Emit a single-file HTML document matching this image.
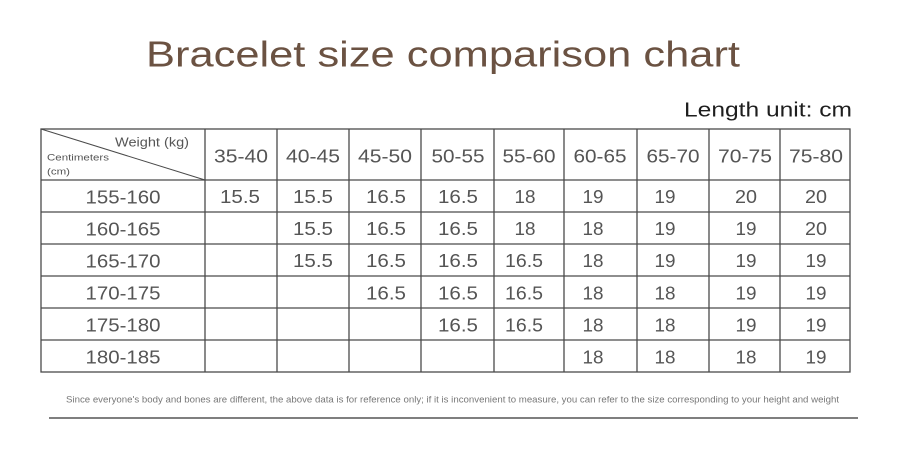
<!DOCTYPE html>
<html><head><meta charset="utf-8"><style>
html,body{margin:0;padding:0;background:#fff;}
svg{display:block;}
text{font-family:"Liberation Sans",sans-serif;}
</style></head><body>
<svg width="903" height="469" viewBox="0 0 903 469" xmlns="http://www.w3.org/2000/svg">
<rect width="903" height="469" fill="#fff"/>
<text x="146" y="66.5" font-size="36" fill="#6b5242" textLength="594" lengthAdjust="spacingAndGlyphs">Bracelet size comparison chart</text>
<text x="684" y="116.5" font-size="20" fill="#1e1e1e" textLength="168" lengthAdjust="spacingAndGlyphs">Length unit: cm</text>
<g stroke="#4a4a4a" stroke-width="1.3" fill="none">
<rect x="41" y="129" width="809" height="243"/>
<line x1="41" y1="180" x2="850" y2="180"/>
<line x1="41" y1="212" x2="850" y2="212"/>
<line x1="41" y1="244" x2="850" y2="244"/>
<line x1="41" y1="276" x2="850" y2="276"/>
<line x1="41" y1="308" x2="850" y2="308"/>
<line x1="41" y1="340" x2="850" y2="340"/>
<line x1="205" y1="129" x2="205" y2="372"/>
<line x1="277" y1="129" x2="277" y2="372"/>
<line x1="349" y1="129" x2="349" y2="372"/>
<line x1="421" y1="129" x2="421" y2="372"/>
<line x1="494" y1="129" x2="494" y2="372"/>
<line x1="564" y1="129" x2="564" y2="372"/>
<line x1="637" y1="129" x2="637" y2="372"/>
<line x1="709" y1="129" x2="709" y2="372"/>
<line x1="780" y1="129" x2="780" y2="372"/>
<line x1="41" y1="129" x2="205" y2="180" stroke-width="1"/>
</g>
<g fill="#555">
<text x="115" y="146.5" font-size="13" textLength="74" lengthAdjust="spacingAndGlyphs">Weight (kg)</text>
<text x="47" y="160.5" font-size="9.5" textLength="62" lengthAdjust="spacingAndGlyphs">Centimeters</text>
<text x="47" y="174.5" font-size="9.5" textLength="23" lengthAdjust="spacingAndGlyphs">(cm)</text>
</g>
<g fill="#555" font-size="18" text-anchor="middle">
<text x="241" y="162.3" textLength="54" lengthAdjust="spacingAndGlyphs">35-40</text>
<text x="313" y="162.3" textLength="54" lengthAdjust="spacingAndGlyphs">40-45</text>
<text x="385" y="162.3" textLength="54" lengthAdjust="spacingAndGlyphs">45-50</text>
<text x="458" y="162.3" textLength="53" lengthAdjust="spacingAndGlyphs">50-55</text>
<text x="529" y="162.3" textLength="53" lengthAdjust="spacingAndGlyphs">55-60</text>
<text x="600" y="162.3" textLength="53" lengthAdjust="spacingAndGlyphs">60-65</text>
<text x="673" y="162.3" textLength="53" lengthAdjust="spacingAndGlyphs">65-70</text>
<text x="745" y="162.3" textLength="54" lengthAdjust="spacingAndGlyphs">70-75</text>
<text x="816" y="162.3" textLength="54" lengthAdjust="spacingAndGlyphs">75-80</text>

<text x="123" y="203.5" textLength="75" lengthAdjust="spacingAndGlyphs">155-160</text>
<text x="123" y="235.5" textLength="75" lengthAdjust="spacingAndGlyphs">160-165</text>
<text x="123" y="267.3" textLength="75" lengthAdjust="spacingAndGlyphs">165-170</text>
<text x="123" y="299.3" textLength="75" lengthAdjust="spacingAndGlyphs">170-175</text>
<text x="123" y="331.5" textLength="75" lengthAdjust="spacingAndGlyphs">175-180</text>
<text x="123" y="363.5" textLength="75" lengthAdjust="spacingAndGlyphs">180-185</text>
</g>
<g fill="#555" font-size="18" text-anchor="middle">
<!-- row 1 -->
<text x="240" y="202.8" textLength="40" lengthAdjust="spacingAndGlyphs">15.5</text>
<text x="313" y="202.8" textLength="40" lengthAdjust="spacingAndGlyphs">15.5</text>
<text x="386" y="202.8" textLength="40" lengthAdjust="spacingAndGlyphs">16.5</text>
<text x="458" y="202.8" textLength="40" lengthAdjust="spacingAndGlyphs">16.5</text>
<text x="525" y="202.8" textLength="21" lengthAdjust="spacingAndGlyphs">18</text>
<text x="593" y="202.8" textLength="21" lengthAdjust="spacingAndGlyphs">19</text>
<text x="665" y="202.8" textLength="21" lengthAdjust="spacingAndGlyphs">19</text>
<text x="746" y="202.8" textLength="22" lengthAdjust="spacingAndGlyphs">20</text>
<text x="816" y="202.8" textLength="22" lengthAdjust="spacingAndGlyphs">20</text>
<!-- row 2 -->
<text x="313" y="235" textLength="40" lengthAdjust="spacingAndGlyphs">15.5</text>
<text x="386" y="235" textLength="40" lengthAdjust="spacingAndGlyphs">16.5</text>
<text x="458" y="235" textLength="40" lengthAdjust="spacingAndGlyphs">16.5</text>
<text x="525" y="235" textLength="21" lengthAdjust="spacingAndGlyphs">18</text>
<text x="593" y="235" textLength="21" lengthAdjust="spacingAndGlyphs">18</text>
<text x="665" y="235" textLength="21" lengthAdjust="spacingAndGlyphs">19</text>
<text x="746" y="235" textLength="21" lengthAdjust="spacingAndGlyphs">19</text>
<text x="816" y="235" textLength="22" lengthAdjust="spacingAndGlyphs">20</text>
<!-- row 3 -->
<text x="313" y="267" textLength="40" lengthAdjust="spacingAndGlyphs">15.5</text>
<text x="386" y="267" textLength="40" lengthAdjust="spacingAndGlyphs">16.5</text>
<text x="458" y="267" textLength="40" lengthAdjust="spacingAndGlyphs">16.5</text>
<text x="524" y="267" textLength="38" lengthAdjust="spacingAndGlyphs">16.5</text>
<text x="593" y="267" textLength="21" lengthAdjust="spacingAndGlyphs">18</text>
<text x="665" y="267" textLength="21" lengthAdjust="spacingAndGlyphs">19</text>
<text x="746" y="267" textLength="21" lengthAdjust="spacingAndGlyphs">19</text>
<text x="816" y="267" textLength="21" lengthAdjust="spacingAndGlyphs">19</text>
<!-- row 4 -->
<text x="386" y="299.3" textLength="40" lengthAdjust="spacingAndGlyphs">16.5</text>
<text x="458" y="299.3" textLength="40" lengthAdjust="spacingAndGlyphs">16.5</text>
<text x="524" y="299.3" textLength="38" lengthAdjust="spacingAndGlyphs">16.5</text>
<text x="593" y="299.3" textLength="21" lengthAdjust="spacingAndGlyphs">18</text>
<text x="665" y="299.3" textLength="21" lengthAdjust="spacingAndGlyphs">18</text>
<text x="746" y="299.3" textLength="21" lengthAdjust="spacingAndGlyphs">19</text>
<text x="816" y="299.3" textLength="21" lengthAdjust="spacingAndGlyphs">19</text>
<!-- row 5 -->
<text x="458" y="331.5" textLength="40" lengthAdjust="spacingAndGlyphs">16.5</text>
<text x="524" y="331.5" textLength="38" lengthAdjust="spacingAndGlyphs">16.5</text>
<text x="593" y="331.5" textLength="21" lengthAdjust="spacingAndGlyphs">18</text>
<text x="665" y="331.5" textLength="21" lengthAdjust="spacingAndGlyphs">18</text>
<text x="746" y="331.5" textLength="21" lengthAdjust="spacingAndGlyphs">19</text>
<text x="816" y="331.5" textLength="21" lengthAdjust="spacingAndGlyphs">19</text>
<!-- row 6 -->
<text x="593" y="363.5" textLength="21" lengthAdjust="spacingAndGlyphs">18</text>
<text x="665" y="363.5" textLength="21" lengthAdjust="spacingAndGlyphs">18</text>
<text x="746" y="363.5" textLength="21" lengthAdjust="spacingAndGlyphs">18</text>
<text x="816" y="363.5" textLength="21" lengthAdjust="spacingAndGlyphs">19</text>
</g>
<text x="66" y="402.5" font-size="9" fill="#777" textLength="773" lengthAdjust="spacingAndGlyphs">Since everyone's body and bones are different, the above data is for reference only; if it is inconvenient to measure, you can refer to the size corresponding to your height and weight</text>
<line x1="49" y1="418" x2="858" y2="418" stroke="#555" stroke-width="1.4"/>
</svg>
</body></html>
